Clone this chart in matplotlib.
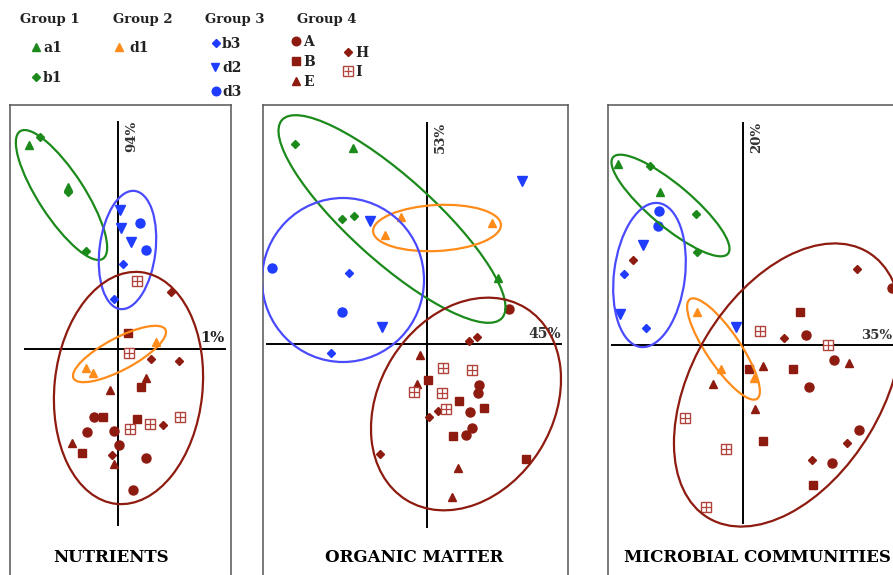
import matplotlib
matplotlib.use("Agg")
import matplotlib.pyplot as plt
from matplotlib.patches import Ellipse

# ---------------- data (PCA scores) ----------------
panel_titles = ["NUTRIENTS", "ORGANIC MATTER", "MICROBIAL COMMUNITIES"]
pc2_labels = ["94%", "53%", "20%"]
pc1_labels = ["1%", "45%", "35%"]

# NUTRIENTS
nut_a1 = [(-8.9, 20.4), (-5.0, 16.2)]
nut_b1 = [(-7.8, 21.2), (-5.0, 15.7), (-3.2, 9.8)]
nut_d1 = [(-3.2, -1.9), (-2.5, -2.4), (3.8, 0.7)]
nut_b3 = [(0.5, 8.5), (-0.4, 5.0)]
nut_d2 = [(0.2, 13.9), (0.3, 12.1), (1.3, 10.7)]
nut_d3 = [(2.2, 12.6), (2.8, 9.9)]
nut_A = [(-2.4, -6.8), (-3.1, -8.3), (-0.4, -8.2), (0.1, -9.6), (2.8, -10.9), (1.5, -14.1)]
nut_B = [(1.0, 1.6), (2.3, -3.8), (-1.5, -6.8), (1.9, -7.0), (-3.6, -10.4)]
nut_E = [(2.8, -2.9), (-0.8, -4.1), (-4.6, -9.4), (-0.4, -11.5)]
nut_H = [(5.3, 5.7), (3.3, -1.0), (6.1, -1.2), (4.5, -7.6), (-0.6, -10.6)]
nut_I = [(1.9, 6.8), (1.1, -0.4), (3.2, -7.5), (6.2, -6.8), (1.2, -8.0)]
# ellipses: (cx, cy, width, height, angle)
nut_ell_g1 = (-5.65, 15.4, 15.2, 4.6, -57)
nut_ell_g2 = (0.15, -0.5, 10.4, 3.2, 28)
nut_ell_g3 = (0.95, 9.9, 11.9, 5.6, 83)
nut_ell_g4 = (1.05, -3.9, 23.3, 14.8, 84)

# ORGANIC MATTER
om_a1 = [(-7.4, 19.6), (7.1, 6.6)]
om_b1 = [(-13.2, 20.0), (-8.5, 12.5), (-7.3, 12.8)]
om_d1 = [(-2.6, 12.7), (-4.2, 10.9), (6.5, 12.1)]
om_b3 = [(-7.8, 7.1), (-9.6, -0.9)]
om_d2 = [(9.5, 16.3), (-5.7, 12.3), (-4.5, 1.7)]
om_d3 = [(-15.5, 7.6), (-8.5, 3.2)]
om_A = [(8.2, 3.5), (5.2, -4.1), (5.1, -4.9), (4.3, -6.8), (4.5, -8.4), (3.9, -9.1)]
om_B = [(0.1, -3.6), (3.2, -5.7), (5.7, -6.4), (2.6, -9.2), (9.9, -11.5)]
om_E = [(-0.7, -1.1), (-1.0, -4.0), (3.1, -12.4), (2.5, -15.3)]
om_H = [(4.2, 0.3), (5.0, 0.7), (1.1, -6.7), (0.2, -7.3), (-4.7, -11.0)]
om_I = [(1.6, -2.4), (4.5, -2.6), (-1.3, -4.8), (1.5, -4.9), (1.9, -6.5)]
om_ell_g1 = (-3.5, 12.5, 29.6, 8.4, -42)
om_ell_g2 = (1.0, 11.6, 12.8, 4.6, 3)
om_ell_g3 = (-8.4, 6.4, 16.2, 16.4, 0)
om_ell_g4 = (3.9, -6.0, 22.6, 17.4, 58)

# MICROBIAL COMMUNITIES
mc_a1 = [(-12.5, 18.1), (-8.3, 15.3)]
mc_b1 = [(-9.3, 17.9), (-4.7, 13.1), (-4.6, 9.3)]
mc_d1 = [(-4.6, 3.3), (-2.2, -2.4), (1.1, -3.3)]
mc_b3 = [(-11.9, 7.1), (-9.7, 1.7)]
mc_d2 = [(-10.0, 10.0), (-12.3, 3.1), (-0.7, 1.8)]
mc_d3 = [(-8.4, 13.4), (-8.5, 11.9)]
mc_A = [(14.9, 5.7), (6.3, 1.0), (9.1, -1.5), (6.6, -4.2), (11.6, -8.5), (8.9, -11.8)]
mc_B = [(5.7, 3.3), (0.6, -2.4), (5.0, -2.4), (2.0, -9.6), (7.0, -14.0)]
mc_E = [(10.6, -1.8), (2.0, -2.1), (-3.0, -3.9), (1.2, -6.4)]
mc_H = [(-11.0, 8.5), (11.4, 7.6), (4.1, 0.7), (10.4, -9.8), (6.9, -11.5)]
mc_I = [(1.7, 1.4), (8.5, 0.0), (-5.8, -7.3), (-1.7, -10.4), (-3.7, -16.2)]
mc_ell_g1 = (-7.25, 13.95, 15.0, 4.2, -40)
mc_ell_g2 = (-1.95, -0.4, 12.0, 3.4, -56)
mc_ell_g3 = (-9.35, 7.0, 14.5, 7.1, 83)
mc_ell_g4 = (4.5, -4.0, 31.0, 19.0, 59)

# ---------------- styles ----------------
GREEN = "#1b8a1b"
ORANGE = "#ff8c1a"
BLUE = "#1f3cff"
BLUE_E = "#4a4aff"
RED = "#8e1b10"
RED_I = "#b0443c"
FONT = "DejaVu Serif"

series_style = {
    "a1": dict(marker="^", color=GREEN, ms=6),
    "b1": dict(marker="D", color=GREEN, ms=4.5),
    "d1": dict(marker="^", color=ORANGE, ms=6),
    "b3": dict(marker="D", color=BLUE, ms=4.5),
    "d2": dict(marker="v", color=BLUE, ms=6.5),
    "d3": dict(marker="o", color=BLUE, ms=6.5),
    "A": dict(marker="o", color=RED, ms=6.5),
    "B": dict(marker="s", color=RED, ms=6.2),
    "E": dict(marker="^", color=RED, ms=6),
    "H": dict(marker="D", color=RED, ms=4.5),
}
ell_colors = [GREEN, ORANGE, BLUE_E, RED]

W, H = 893, 575
fig = plt.figure(figsize=(W / 100, H / 100), dpi=100)

# overlay axes in pixel space for the legend
ov = fig.add_axes([0, 0, 1, 1])
ov.set_xlim(0, W)
ov.set_ylim(H, 0)
ov.axis("off")


def draw_marker(ax, name, x, y, scale=1.0):
    if name == "I":
        ax.plot(x, y, ls="none", marker="s", ms=7 * scale, mfc="white",
                mec=RED_I, mew=1.0, zorder=3)
        ax.plot(x, y, ls="none", marker="+", ms=6.5 * scale, color=RED_I,
                mew=0.9, zorder=3.1)
    else:
        st = series_style[name]
        ax.plot(x, y, ls="none", marker=st["marker"], ms=st["ms"] * scale,
                color=st["color"], mec=st["color"], zorder=3)


# panels: pixel boxes and origin (axis crossing) in pixels
panel_boxes = [(10, 105, 231, 592), (263, 105, 568, 592), (608, 105, 912, 592)]
panel_origins = [(118, 349), (427, 344), (743, 345)]
axis_extent = [  # (x_left, x_right, y_bottom, y_top) in score units
    (-9.3, 10.7, -17.6, 22.7),
    (-16.0, 13.4, -18.3, 22.1),
    (-13.1, 16.5, -17.8, 22.2),
]
panel_series = [
    dict(a1=nut_a1, b1=nut_b1, d1=nut_d1, b3=nut_b3, d2=nut_d2, d3=nut_d3,
         A=nut_A, B=nut_B, E=nut_E, H=nut_H, I=nut_I),
    dict(a1=om_a1, b1=om_b1, d1=om_d1, b3=om_b3, d2=om_d2, d3=om_d3,
         A=om_A, B=om_B, E=om_E, H=om_H, I=om_I),
    dict(a1=mc_a1, b1=mc_b1, d1=mc_d1, b3=mc_b3, d2=mc_d2, d3=mc_d3,
         A=mc_A, B=mc_B, E=mc_E, H=mc_H, I=mc_I),
]
panel_ellipses = [
    [nut_ell_g1, nut_ell_g2, nut_ell_g3, nut_ell_g4],
    [om_ell_g1, om_ell_g2, om_ell_g3, om_ell_g4],
    [mc_ell_g1, mc_ell_g2, mc_ell_g3, mc_ell_g4],
]

SC = 10.0  # pixels per score unit
for i in range(3):
    L, T, R, B = panel_boxes[i]
    ox, oy = panel_origins[i]
    ax = fig.add_axes([L / W, 1 - B / H, (R - L) / W, (B - T) / H])
    ax.set_xlim((L - ox) / SC, (R - ox) / SC)
    ax.set_ylim((oy - B) / SC, (oy - T) / SC)
    ax.set_xticks([])
    ax.set_yticks([])
    for s in ax.spines.values():
        s.set_color("#555555")
        s.set_linewidth(1.1)

    xl, xr, yb, yt = axis_extent[i]
    ax.plot([xl, xr], [0, 0], color="black", lw=1.4, zorder=2)
    ax.plot([0, 0], [yb, yt], color="black", lw=1.4, zorder=2)

    for name, pts in panel_series[i].items():
        xs = [p[0] for p in pts]
        ys = [p[1] for p in pts]
        draw_marker(ax, name, xs, ys)

    for (cx, cy, w, h, ang), col in zip(panel_ellipses[i], ell_colors):
        ax.add_patch(Ellipse((cx, cy), w, h, angle=ang, fill=False,
                             ec=col, lw=1.6, zorder=4))

    # axis percentage labels
    ax.text(0.7, yt + 0.1, pc2_labels[i], rotation=90, ha="left", va="top",
            fontsize=9.5, fontweight="bold", color="#333333", family=FONT)
    if i == 2:
        ax.text(14.9, 0.35, pc1_labels[i], ha="right", va="bottom",
                fontsize=9.5, fontweight="bold", color="#333333", family=FONT)
    else:
        ax.text(xr, 0.35, pc1_labels[i], ha="right", va="bottom",
                fontsize=10.5 if i == 0 else 10, fontweight="bold",
                color="#222222" if i == 0 else "#333333", family=FONT)

    # panel title
    title_cx = [111, 414, 757][i]
    ax.text((title_cx - ox) / SC, (oy - 557) / SC, panel_titles[i],
            ha="center", va="center", fontsize=12, fontweight="bold",
            color="black", family=FONT)

# ---------------- legend (top) ----------------
group_names = ["Group 1", "Group 2", "Group 3", "Group 4"]
group_x = [20, 113, 205, 297]
for gx, gname in zip(group_x, group_names):
    ov.text(gx, 19, gname, ha="left", va="center", fontsize=9.5,
            fontweight="bold", color="#222222", family=FONT)

legend_items = [  # (series, marker x, y, text x)
    ("a1", 36, 47, 43), ("b1", 36, 77, 43),
    ("d1", 119, 47, 129),
    ("b3", 216, 43, 222), ("d2", 215, 67, 222), ("d3", 216, 91, 222),
    ("A", 296, 41, 303), ("B", 296, 61, 303), ("E", 296, 81, 303),
    ("H", 348, 52, 355), ("I", 348, 71, 355),
]
for name, mx, my, tx in legend_items:
    draw_marker(ov, name, [mx], [my], scale=0.95)
    ov.text(tx, my + 1, name, ha="left", va="center", fontsize=10,
            fontweight="bold", color="#222222", family=FONT)

fig.savefig("out.png", dpi=100)
